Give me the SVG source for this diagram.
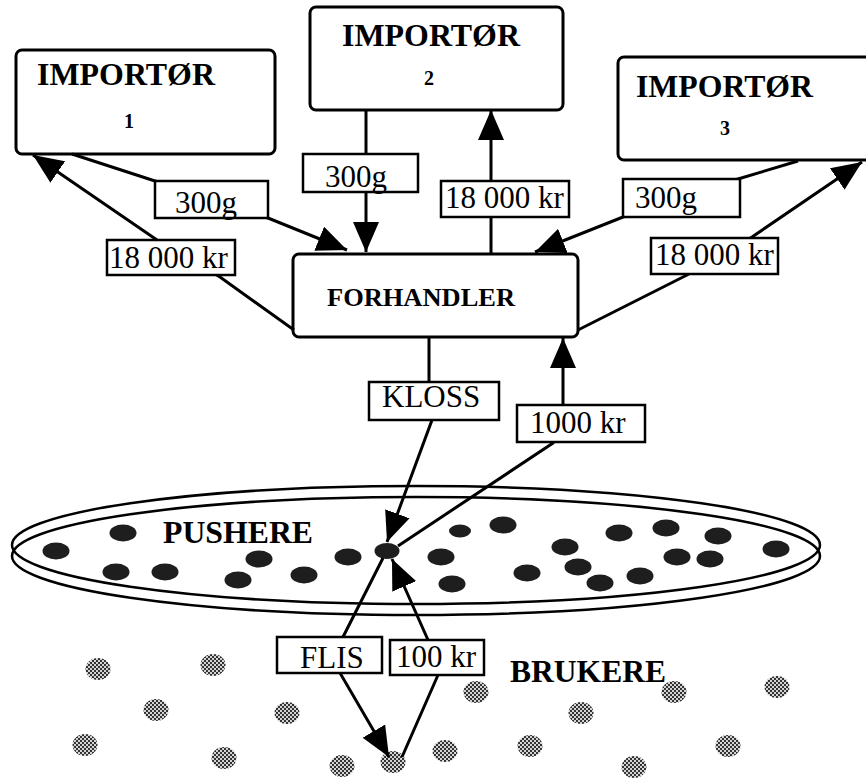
<svg xmlns="http://www.w3.org/2000/svg" width="866" height="778" viewBox="0 0 866 778">
<style>
.box{fill:#fff;stroke:#000;stroke-width:3}
.lbl{fill:#fff;stroke:#000;stroke-width:2.5}
.t{font-family:"Liberation Serif","Times New Roman",serif;font-size:31px;fill:#000}
.b{font-weight:bold}
.n{font-family:"Liberation Serif","Times New Roman",serif;font-size:20px;font-weight:bold;fill:#000;text-anchor:middle}
.c{fill:none;stroke:#000;stroke-width:3}
.ring{fill:none;stroke:#000;stroke-width:2.5}
.p{fill:#1e1e1e}
.u{fill:url(#ht)}
</style>
<defs>
<marker id="ah" viewBox="0 0 30 26" refX="30" refY="13" markerWidth="30" markerHeight="26" markerUnits="userSpaceOnUse" orient="auto">
<path d="M0,0 L30,13 L0,26 Z" fill="#000"/>
</marker>
<pattern id="ht" patternUnits="userSpaceOnUse" width="4" height="4">
<rect width="4" height="4" fill="#d4d4d4"/>
<rect width="2" height="2" fill="#333"/>
<rect x="2" y="2" width="2" height="2" fill="#333"/>
</pattern>
</defs>
<rect width="866" height="778" fill="#fff"/>

<g id="pushere">
<ellipse class="ring" cx="416" cy="545" rx="404" ry="59"/>
<ellipse class="ring" cx="416" cy="556" rx="404" ry="59"/>
<ellipse class="p" cx="123" cy="533" rx="13.5" ry="8.5"/>
<ellipse class="p" cx="56" cy="551" rx="13.5" ry="8.5"/>
<ellipse class="p" cx="116" cy="572" rx="13.5" ry="8.5"/>
<ellipse class="p" cx="165" cy="572" rx="13.5" ry="8.5"/>
<ellipse class="p" cx="259" cy="559" rx="13.5" ry="8.5"/>
<ellipse class="p" cx="238" cy="580" rx="13.5" ry="8.5"/>
<ellipse class="p" cx="304" cy="575" rx="13.5" ry="8.5"/>
<ellipse class="p" cx="348" cy="557" rx="13.5" ry="8.5"/>
<ellipse class="p" cx="387" cy="551" rx="12.5" ry="8"/>
<ellipse class="p" cx="460" cy="531" rx="11" ry="6.5"/>
<ellipse class="p" cx="503" cy="525" rx="13.5" ry="8.5"/>
<ellipse class="p" cx="441" cy="557" rx="13.5" ry="8.5"/>
<ellipse class="p" cx="452" cy="584" rx="13.5" ry="8.5"/>
<ellipse class="p" cx="565" cy="547" rx="13.5" ry="8.5"/>
<ellipse class="p" cx="527" cy="573" rx="13.5" ry="8.5"/>
<ellipse class="p" cx="578" cy="567" rx="13.5" ry="8.5"/>
<ellipse class="p" cx="600" cy="583" rx="13.5" ry="8.5"/>
<ellipse class="p" cx="619" cy="533" rx="13.5" ry="8.5"/>
<ellipse class="p" cx="640" cy="576" rx="13.5" ry="8.5"/>
<ellipse class="p" cx="666" cy="528" rx="13.5" ry="8.5"/>
<ellipse class="p" cx="677" cy="557" rx="13.5" ry="8.5"/>
<ellipse class="p" cx="718" cy="536" rx="13.5" ry="8.5"/>
<ellipse class="p" cx="710" cy="559" rx="13.5" ry="8.5"/>
<ellipse class="p" cx="776" cy="549" rx="13.5" ry="8.5"/>
<text class="t b" x="163" y="543" textLength="150" lengthAdjust="spacingAndGlyphs">PUSHERE</text>
</g>

<g id="brukere">
<ellipse class="u" cx="98" cy="669" rx="12.5" ry="11"/>
<ellipse class="u" cx="213" cy="665" rx="12.5" ry="11"/>
<ellipse class="u" cx="156" cy="710" rx="12.5" ry="11"/>
<ellipse class="u" cx="287" cy="713" rx="12.5" ry="11"/>
<ellipse class="u" cx="85" cy="745" rx="12.5" ry="11"/>
<ellipse class="u" cx="224" cy="758" rx="12.5" ry="11"/>
<ellipse class="u" cx="342" cy="766" rx="12.5" ry="11"/>
<ellipse class="u" cx="393" cy="762" rx="12.5" ry="11"/>
<ellipse class="u" cx="476" cy="692" rx="12.5" ry="11"/>
<ellipse class="u" cx="445" cy="751" rx="12.5" ry="11"/>
<ellipse class="u" cx="530" cy="746" rx="12.5" ry="11"/>
<ellipse class="u" cx="581" cy="713" rx="12.5" ry="11"/>
<ellipse class="u" cx="674" cy="692" rx="12.5" ry="11"/>
<ellipse class="u" cx="634" cy="767" rx="12.5" ry="11"/>
<ellipse class="u" cx="777" cy="687" rx="12.5" ry="11"/>
<ellipse class="u" cx="728" cy="746" rx="12.5" ry="11"/>
<text class="t b" x="510" y="682" textLength="156" lengthAdjust="spacingAndGlyphs">BRUKERE</text>
</g>

<g id="imp1">
<rect class="box" x="16" y="50" width="259" height="104" rx="6"/>
<text class="t b" x="37" y="85" textLength="178" lengthAdjust="spacingAndGlyphs">IMPORTØR</text>
<text class="n" x="129" y="128">1</text>
</g>
<g id="imp2">
<rect class="box" x="310" y="7" width="253" height="103" rx="6"/>
<text class="t b" x="342" y="46" textLength="178" lengthAdjust="spacingAndGlyphs">IMPORTØR</text>
<text class="n" x="429" y="85">2</text>
</g>
<g id="imp3">
<rect class="box" x="618" y="57" width="262" height="103" rx="6"/>
<text class="t b" x="636" y="97" textLength="177" lengthAdjust="spacingAndGlyphs">IMPORTØR</text>
<text class="n" x="725" y="135">3</text>
</g>
<g id="forhandler">
<rect class="box" x="293" y="254" width="285" height="83" rx="6"/>
<text class="t b" x="327" y="306" style="font-size:25px" textLength="188" lengthAdjust="spacingAndGlyphs">FORHANDLER</text>
</g>

<g id="connectors">
<polyline class="c" points="294,330 220,277 157,240 33,155" marker-end="url(#ah)"/>
<polyline class="c" points="72,154 155,181 268,218 347,250" marker-end="url(#ah)"/>
<polyline class="c" points="366,110 366,252" marker-end="url(#ah)"/>
<polyline class="c" points="491,254 491,110" marker-end="url(#ah)"/>
<polyline class="c" points="798,161 738,179 623,217 535,252" marker-end="url(#ah)"/>
<polyline class="c" points="578,330 687,275 752,237 862,162" marker-end="url(#ah)"/>
<polyline class="c" points="429,337 429,382 432,420 387,542" marker-end="url(#ah)"/>
<polyline class="c" points="398,546 553,443 563,405 563,338" marker-end="url(#ah)"/>
<polyline class="c" points="383,558 343,637 340,673 389,757" marker-end="url(#ah)"/>
<polyline class="c" points="402,757 438,675 428,640 392,559" marker-end="url(#ah)"/>

<rect class="lbl" x="155" y="181" width="113" height="37"/>
<text class="t" x="175" y="213">300g</text>
<rect class="lbl" x="107" y="240" width="128" height="35"/>
<text class="t" x="109" y="268">18 000 kr</text>
<rect class="lbl" x="303" y="154" width="115" height="38"/>
<text class="t" x="325" y="187">300g</text>
<rect class="lbl" x="441" y="181" width="128" height="36"/>
<text class="t" x="445" y="208">18 000 kr</text>
<rect class="lbl" x="623" y="179" width="117" height="38"/>
<text class="t" x="635" y="208">300g</text>
<rect class="lbl" x="651" y="238" width="127" height="36"/>
<text class="t" x="655" y="265">18 000 kr</text>
<rect class="lbl" x="369" y="382" width="130" height="38"/>
<text class="t" x="382" y="407">KLOSS</text>
<rect class="lbl" x="517" y="405" width="128" height="37"/>
<text class="t" x="530" y="433">1000 kr</text>
<rect class="lbl" x="277" y="637" width="105" height="36"/>
<text class="t" x="300" y="668">FLIS</text>
<rect class="lbl" x="390" y="640" width="94" height="35"/>
<text class="t" x="396" y="667">100 kr</text>
</g>
</svg>
